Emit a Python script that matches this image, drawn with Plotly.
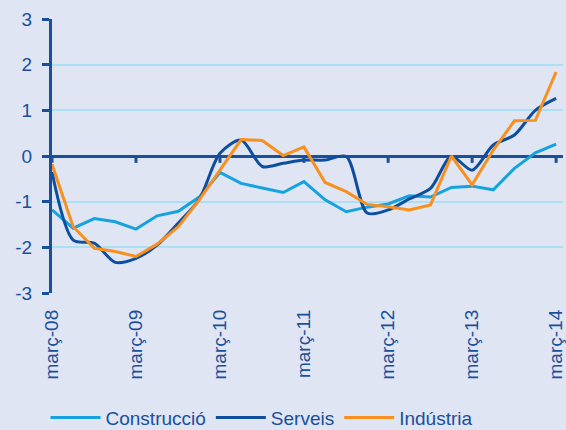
import plotly.graph_objects as go

# quarterly series, març-08 .. març-14
quarters = ["2008-03-01", "2008-06-01", "2008-09-01", "2008-12-01",
            "2009-03-01", "2009-06-01", "2009-09-01", "2009-12-01",
            "2010-03-01", "2010-06-01", "2010-09-01", "2010-12-01",
            "2011-03-01", "2011-06-01", "2011-09-01", "2011-12-01",
            "2012-03-01", "2012-06-01", "2012-09-01", "2012-12-01",
            "2013-03-01", "2013-06-01", "2013-09-01", "2013-12-01",
            "2014-03-01"]

construccio = [-1.18, -1.58, -1.37, -1.44, -1.60, -1.31, -1.21, -0.90,
               -0.36, -0.60, -0.70, -0.80, -0.56, -0.96, -1.22, -1.12,
               -1.05, -0.87, -0.90, -0.69, -0.66, -0.74, -0.27, 0.07, 0.26]
serveis = [-0.35, -1.84, -1.91, -2.33, -2.24, -1.95, -1.47, -0.95,
           0.06, 0.35, -0.23, -0.16, -0.09, -0.09, -0.01, -1.25,
           -1.18, -0.94, -0.71, -0.01, -0.31, 0.24, 0.46, 1.00, 1.26]
industria = [-0.18, -1.55, -2.02, -2.09, -2.20, -1.93, -1.55, -0.96,
             -0.31, 0.36, 0.34, 0.01, 0.20, -0.58, -0.78, -1.06,
             -1.11, -1.18, -1.07, 0.00, -0.63, 0.13, 0.77, 0.78, 1.84]

tick_vals = ["2008-03-01", "2009-03-01", "2010-03-01", "2011-03-01",
             "2012-03-01", "2013-03-01", "2014-03-01"]
tick_text = ["març-08", "març-09", "març-10", "març-11", "març-12", "març-13", "març-14"]
y_vals = [-3, -2, -1, 0, 1, 2, 3]
y_text = ["-3", "-2", "-1", "0", "1", "2", "3"]

axis_blue = "#1a4f9c"

fig = go.Figure()
fig.add_trace(go.Scatter(x=quarters, y=construccio, mode="lines", name="Construcció",
                         line=dict(color="#15a2de", width=3)))
fig.add_trace(go.Scatter(x=quarters, y=serveis, mode="lines", name="Serveis",
                         line=dict(color="#0d4f9e", width=3, shape="spline", smoothing=0.8)))
fig.add_trace(go.Scatter(x=quarters, y=industria, mode="lines", name="Indústria",
                         line=dict(color="#f7901e", width=3)))
# small downward tick marks on the zero line, one per year
fig.add_trace(go.Scatter(x=tick_vals, y=[0] * len(tick_vals), mode="markers",
                         marker=dict(size=1, opacity=0), showlegend=False, hoverinfo="skip",
                         error_y=dict(type="data", symmetric=False, array=[0] * len(tick_vals),
                                      arrayminus=[0.15] * len(tick_vals),
                                      color=axis_blue, thickness=3, width=0)))

fig.update_layout(
    width=566, height=430,
    margin=dict(l=52, r=3, t=19, b=137, autoexpand=False),
    paper_bgcolor="#dfe5f2", plot_bgcolor="#dfe5f2",
    font=dict(family="Liberation Sans, Arial, sans-serif", color=axis_blue),
    showlegend=True,
    legend=dict(orientation="h", x=0.41, xanchor="center", y=-0.455, yanchor="middle",
                font=dict(size=19, color=axis_blue), itemwidth=50,
                bgcolor="rgba(0,0,0,0)"),
    xaxis=dict(range=["2008-03-01", "2014-03-31"], tickvals=tick_vals, ticktext=tick_text,
               tickangle=-90, tickfont=dict(size=19, color=axis_blue), showgrid=False,
               zeroline=False, showline=False, ticks="", ticklabelstandoff=12,
               ticklabeloverflow="allow", automargin=False),
    yaxis=dict(range=[-3, 3], tickvals=y_vals, ticktext=y_text,
               showgrid=True, gridcolor="#aadff5", gridwidth=1.5,
               zeroline=True, zerolinecolor=axis_blue, zerolinewidth=3,
               showline=True, linecolor=axis_blue, linewidth=3,
               ticks="outside", ticklen=7, tickwidth=3, tickcolor=axis_blue,
               ticklabelstandoff=6, ticklabeloverflow="allow",
               tickfont=dict(size=19, color=axis_blue), automargin=False),
)

fig.write_html("out.html", config={"displayModeBar": False},
               post_script="document.body.style.margin='0';")
